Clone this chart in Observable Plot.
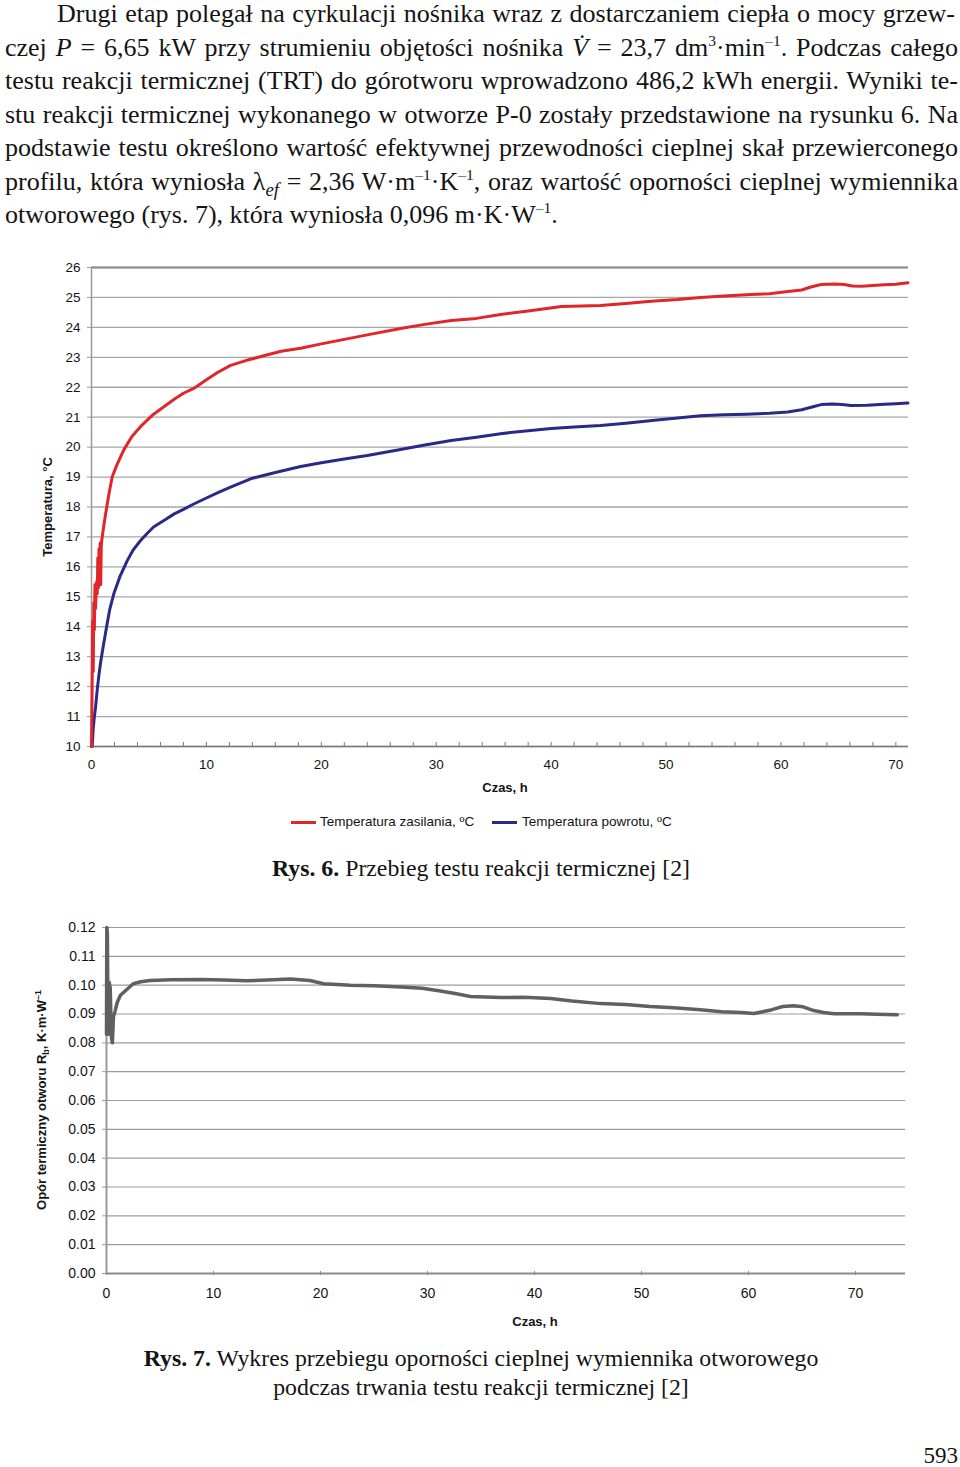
<!DOCTYPE html>
<html><head><meta charset="utf-8">
<script src="https://cdn.jsdelivr.net/npm/d3@7"></script>
<script src="https://cdn.jsdelivr.net/npm/@observablehq/plot@0.6"></script>
<style>
body{margin:0;background:#fff;}
#page{position:relative;width:960px;height:1467px;overflow:hidden;font-family:"Liberation Serif","Times New Roman",serif;color:#141414;}
.ln{position:absolute;left:5px;width:953px;font-size:26px;line-height:26px;text-align:justify;text-align-last:justify;}
.ln.last{text-align:left;text-align-last:left;}
sup{font-size:0.6em;vertical-align:0;position:relative;top:-0.62em;line-height:0;}
sub{font-size:0.72em;vertical-align:0;position:relative;top:0.35em;line-height:0;}
.cap{position:absolute;left:0;width:962px;text-align:center;font-size:23.8px;line-height:30px;}
.chart{position:absolute;left:0;}
.leg{position:absolute;font-family:"Liberation Sans",Arial,sans-serif;font-size:13.5px;line-height:16px;color:#141414;}
.sw{position:absolute;height:3px;}
</style></head>
<body><div id="page">
<div class="ln" style="top:1px;left:57px;width:898px;">Drugi etap polegał na cyrkulacji nośnika wraz z dostarczaniem ciepła o mocy grzew-</div>
<div class="ln" style="top:34.5px;">czej <i>P</i> = 6,65 kW przy strumieniu objętości nośnika <i>V̇</i> = 23,7 dm<sup>3</sup>·min<sup>–1</sup>. Podczas całego</div>
<div class="ln" style="top:68px;">testu reakcji termicznej (TRT) do górotworu wprowadzono 486,2 kWh energii. Wyniki te-</div>
<div class="ln" style="top:101.5px;">stu reakcji termicznej wykonanego w otworze P-0 zostały przedstawione na rysunku 6. Na</div>
<div class="ln" style="top:135px;">podstawie testu określono wartość efektywnej przewodności cieplnej skał przewierconego</div>
<div class="ln" style="top:168.5px;">profilu, która wyniosła λ<sub><i>ef</i></sub> = 2,36 W·m<sup>–1</sup>·K<sup>–1</sup>, oraz wartość oporności cieplnej wymiennika</div>
<div class="ln last" style="top:202px;">otworowego (rys. 7), która wyniosła 0,096 m·K·W<sup>–1</sup>.</div>

<div id="c1" class="chart" style="top:250px;"></div>

<div class="sw" style="left:291px;top:821px;width:25px;background:#e0262b;"></div>
<div class="leg" style="left:320px;top:814px;">Temperatura zasilania, ºC</div>
<div class="sw" style="left:492px;top:821px;width:25px;background:#2a2a86;"></div>
<div class="leg" style="left:522px;top:814px;">Temperatura powrotu, ºC</div>

<div class="cap" style="top:853px;"><b>Rys. 6.</b> Przebieg testu reakcji termicznej [2]</div>

<div id="c2" class="chart" style="top:910px;"></div>

<div class="cap" style="top:1343px;"><b>Rys. 7.</b> Wykres przebiegu oporności cieplnej wymiennika otworowego</div>
<div class="cap" style="top:1372px;">podczas trwania testu reakcji termicznej [2]</div>

<div style="position:absolute;right:2px;top:1446px;font-size:23px;line-height:20px;">593</div>
</div>
<script>
// ---- Rys. 6 data ----
const czasZasilania = [0,0.05,0.1,0.15,0.2,0.25,0.3,0.35,0.4,0.45,0.5,0.55,0.6,0.65,0.7,0.75,0.8,0.85,0.9,1.0,1.2,1.5,1.8,2.2,2.8,3.5,4.3,5.4,6.3,7.2,8.0,8.9,10,11,12.1,13.5,15,16.5,18.2,20,22,24,26.9,29,31.3,33.5,35.6,38,40.9,44.3,46.5,48.7,51,53,55,57.4,59,60.6,61.8,62.6,63.5,64.7,65.5,66.2,67,68,69,70,71.05];
const tempZasilania = [10.0,11.8,14.2,12.5,14.8,13.9,15.4,14.6,15.1,15.5,15.1,16.3,15.3,16.6,15.4,16.8,15.4,16.7,16.9,17.2,17.7,18.4,19.0,19.4,19.9,20.35,20.7,21.1,21.35,21.6,21.8,21.96,22.25,22.5,22.73,22.9,23.05,23.2,23.3,23.45,23.6,23.75,23.96,24.1,24.23,24.3,24.43,24.55,24.7,24.73,24.8,24.87,24.93,25.0,25.05,25.1,25.12,25.2,25.25,25.35,25.43,25.45,25.43,25.38,25.37,25.4,25.42,25.44,25.49];
const czasPowrotu = [0,0.06,0.15,0.25,0.35,0.5,0.65,0.78,1.0,1.36,1.6,1.94,2.5,3.1,3.6,4.27,4.8,5.4,6.3,7.2,8.0,8.9,10,11,12.1,13.9,16,18.2,20,22,24,26.9,29,31.3,33.5,35.6,38,40,42,44.3,46.5,49,51,53,55,57,59,60.6,61.8,62.8,63.5,64.5,65.3,66.1,67.5,69,70,71.05];
const tempPowrotu = [10.0,10.0,10.6,11.0,11.3,11.9,12.4,12.77,13.3,14.1,14.6,15.1,15.7,16.2,16.55,16.88,17.1,17.33,17.55,17.77,17.92,18.1,18.3,18.48,18.66,18.95,19.15,19.35,19.48,19.6,19.72,19.92,20.07,20.22,20.33,20.45,20.55,20.62,20.67,20.72,20.8,20.9,20.97,21.05,21.08,21.1,21.13,21.17,21.25,21.35,21.42,21.44,21.42,21.39,21.4,21.43,21.45,21.47];
const tempTicks = [10,11,12,13,14,15,16,17,18,19,20,21,22,23,24,25,26];
const czasTicks = [0,10,20,30,40,50,60,70];
const czasMinorTicks = [0,2,4,6,8,10,12,14,16,18,20,22,24,26,28,30,32,34,36,38,40,42,44,46,48,50,52,54,56,58,60,62,64,66,68,70];

// ---- Rys. 7 data ----
const czasOporu = [0,0.03,0.08,0.15,0.25,0.35,0.45,0.55,0.65,0.8,1.0,1.3,1.9,2.5,3.2,4.1,6,8.8,11,13.1,15,17.2,19,20.3,22.8,25,27.5,29.5,31.2,32.7,34,36.8,39,41.5,43.5,46.2,48.5,50.8,53,55.5,57.5,59.3,60.5,61.3,62.2,63.2,64.2,65.1,66.1,67,68,70.5,72,73.9];
const opor = [0.083,0.120,0.118,0.083,0.101,0.099,0.082,0.080,0.089,0.091,0.094,0.0965,0.0985,0.1005,0.1012,0.1016,0.1019,0.102,0.1018,0.1015,0.1018,0.1021,0.1016,0.1005,0.1,0.0998,0.0994,0.0989,0.098,0.097,0.0961,0.0957,0.0958,0.0954,0.0945,0.0936,0.0933,0.0926,0.0922,0.0915,0.0908,0.0905,0.0902,0.0908,0.0915,0.0926,0.0929,0.0925,0.0912,0.0905,0.0901,0.0901,0.0899,0.0897];
const oporTicks = [0,0.01,0.02,0.03,0.04,0.05,0.06,0.07,0.08,0.09,0.10,0.11,0.12];

const zas = czasZasilania.map((t,i)=>({t, v: tempZasilania[i]}));
const pow = czasPowrotu.map((t,i)=>({t, v: tempPowrotu[i]}));
const op = czasOporu.map((t,i)=>({t, v: opor[i]}));

const sans = "'Liberation Sans', Arial, sans-serif";

const ch1 = Plot.plot({
  width: 960, height: 560,
  marginLeft: 91, marginRight: 52, marginTop: 17, marginBottom: 64,
  style: {fontFamily: sans, fontSize: "13.5px", color: "#141414", background: "transparent", overflow: "visible"},
  x: {domain: [0, 71.1], label: null},
  y: {domain: [10, 26], label: null},
  marks: [
    Plot.ruleY(tempTicks, {stroke: "#a6a6a6", strokeWidth: 1.3}),
    Plot.ruleY([26], {stroke: "#8a8a8a", strokeWidth: 2}),
    Plot.ruleY([10], {stroke: "#7a7a7a", strokeWidth: 1.5}),
    Plot.ruleX([0], {stroke: "#9a9a9a", strokeWidth: 1.5}),
    Plot.axisY(tempTicks, {tickSize: 4, tickPadding: 7, stroke: "#9a9a9a", fill: "#141414", label: null, tickFormat: d => String(d)}),
    Plot.axisX(czasMinorTicks, {tickSize: 4, dy: -4, stroke: "#7a7a7a", label: null, tickFormat: () => ""}),
    Plot.axisX(czasTicks, {tickSize: 0, tickPadding: 13, fill: "#141414", label: null, tickFormat: d => String(d)}),
    Plot.line(pow, {x: "t", y: "v", stroke: "#2a2a86", strokeWidth: 3}),
    Plot.line(zas, {x: "t", y: "v", stroke: "#e0262b", strokeWidth: 3}),
    Plot.text(["Czas, h"], {frameAnchor: "bottom", dx: 5, dy: 41, lineAnchor: "middle", fontWeight: "bold", fontSize: 13, fill: "#141414"}),
    Plot.text(["Temperatura, °C"], {frameAnchor: "left", dx: -44, rotate: -90, textAnchor: "middle", lineAnchor: "middle", fontWeight: "bold", fontSize: 13, fill: "#141414"})
  ]
});
document.getElementById("c1").appendChild(ch1);

const ch2 = Plot.plot({
  width: 960, height: 430,
  marginLeft: 106, marginRight: 55, marginTop: 17, marginBottom: 67,
  style: {fontFamily: sans, fontSize: "14px", color: "#141414", background: "transparent", overflow: "visible"},
  x: {domain: [0, 74.67], label: null},
  y: {domain: [0, 0.12], label: null},
  marks: [
    Plot.ruleY(oporTicks, {stroke: "#9c9c9c", strokeWidth: 1.2}),
    Plot.ruleY([0], {stroke: "#8a8a8a", strokeWidth: 2}),
    Plot.ruleX([0], {stroke: "#9a9a9a", strokeWidth: 2}),
    Plot.axisY(oporTicks, {tickSize: 4, tickPadding: 7, stroke: "#9a9a9a", fill: "#141414", label: null, tickFormat: d3.format(".2f")}),
    Plot.axisX(czasTicks, {tickSize: 4, dy: -2, stroke: "#8a8a8a", label: null, tickFormat: () => ""}),
    Plot.axisX(czasTicks, {tickSize: 0, tickPadding: 15, fill: "#141414", label: null, tickFormat: d => String(d)}),
    Plot.line(op, {x: "t", y: "v", stroke: "#606060", strokeWidth: 3.5}),
    Plot.text(["Czas, h"], {frameAnchor: "bottom", dx: 29, dy: 48, lineAnchor: "middle", fontWeight: "bold", fontSize: 13, fill: "#141414"})
  ]
});
document.getElementById("c2").appendChild(ch2);

// y-axis title with subscript / superscript
const t2 = d3.select(ch2).append("text")
  .attr("transform", "translate(46,190) rotate(-90)")
  .attr("text-anchor", "middle")
  .attr("font-family", sans)
  .attr("font-weight", "bold")
  .attr("font-size", 13)
  .attr("fill", "#141414");
t2.append("tspan").text("Opór termiczny otworu R");
t2.append("tspan").attr("font-size", 9).attr("dy", 3).text("b");
t2.append("tspan").attr("dy", -3).text(", K·m·W");
t2.append("tspan").attr("font-size", 9).attr("dy", -5).text("–1");
</script>
</body></html>
